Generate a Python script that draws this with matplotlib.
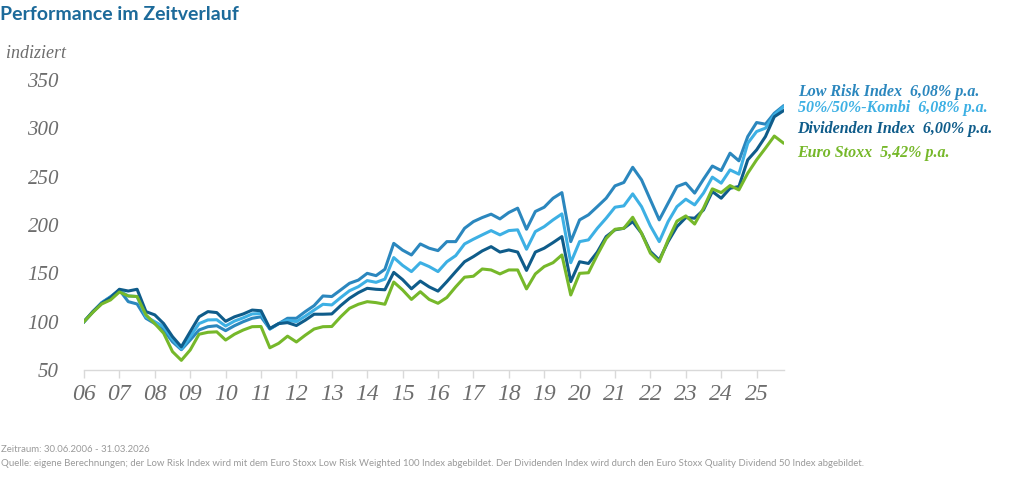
import matplotlib
matplotlib.use("Agg")
import matplotlib.pyplot as plt
import numpy as np

# Quarterly data 30.06.2006 - 31.03.2026 (indexed, start = 100)
low_risk = [100, 110, 119.7, 125.8, 132.8, 120.7, 118.3, 103.5, 98, 91.4,
            79.2, 71, 81, 91.4, 94.8, 95.8, 90.7, 95.8, 100, 103.5,
            105, 92.4, 98, 103.5, 103.5, 110.4, 116.6, 126.6, 126, 132.8,
            139.7, 143, 150, 147.6, 154.2, 181, 174, 169, 180.4, 176,
            173.5, 182.8, 182.8, 196.6, 203.5, 207.7, 211.2, 206.3, 212.9, 217.4,
            195.6, 214, 218.4, 227.7, 233.5, 182.8, 205.3, 210.5, 219, 227.7,
            240.5, 244, 259.7, 246.7, 226, 205.3, 222.6, 239.8, 243.3, 233,
            247.4, 261, 256.3, 274.3, 266.4, 291.5, 306, 304.3, 315.6, 323]
kombi = [100, 110, 119.5, 125.5, 132, 126.6, 126, 105, 100, 94.8,
         81.7, 71.6, 84.5, 98, 101.8, 102, 95.5, 100.6, 104, 108,
         108.4, 92.4, 98, 101.5, 100, 105.7, 112, 118, 117.3, 124.9,
         132, 136.2, 142.5, 140.7, 144, 166.3, 158.2, 151.8, 161, 157,
         151.8, 162, 168.3, 180.4, 185.3, 189.8, 194.2, 189.8, 194.2, 195,
         174.9, 193.2, 198.3, 205.3, 211.5, 161, 182.8, 184.6, 196.6, 207,
         218.4, 219.8, 232.2, 219, 199, 182.8, 203.5, 219, 226.7, 220.8,
         233, 249.5, 243.3, 257, 252.6, 284.6, 296.7, 300.2, 314, 322]
dividenden = [100, 110.5, 119, 125, 133.5, 131.7, 133.5, 110.4, 107, 98,
              84.5, 74, 89.6, 105, 110.4, 109.4, 100.4, 105, 108, 112,
              111.3, 93, 98, 99, 96, 101.5, 107.7, 107.7, 108, 116.6,
              124.2, 130, 134.5, 133.5, 133, 151, 143.5, 134, 142, 136,
              131.6, 141.4, 151.8, 162, 167.3, 173.2, 177.6, 172, 174.2, 172,
              153, 172, 176, 181.8, 188, 141.4, 162, 160.2, 172, 188,
              195, 196.6, 203.5, 191.5, 172.5, 163.8, 182.8, 198.3, 207.7, 207,
              215.6, 234.6, 227.7, 238, 239.8, 267.4, 277.7, 291.5, 312, 318]
euro_stoxx = [100, 109.7, 118.3, 122.5, 130.7, 126.6, 126, 107, 98, 88,
              69, 60, 70.7, 87, 89, 89.5, 81, 87, 91.4, 94.8,
              95, 73, 77.6, 85, 79, 86, 92.4, 94.8, 95, 105,
              113.8, 118, 120.7, 119.7, 118, 141, 132.8, 123, 131, 123,
              119, 125, 136, 146, 147, 154.5, 153.5, 149.4, 153.5, 153.5,
              133.9, 149.4, 157, 161, 169, 127.6, 150, 150.6, 169, 186,
              195.6, 196.6, 208, 191.5, 170.8, 162, 184.6, 204, 209.4, 201,
              217.4, 237.4, 233.5, 240.8, 236.3, 253.6, 267.4, 279.5, 292, 285]

year_labels = ["06", "07", "08", "09", "10", "11", "12", "13", "14", "15",
               "16", "17", "18", "19", "20", "21", "22", "23", "24", "25"]
y_ticks = [50, 100, 150, 200, 250, 300, 350]

series_names = ["Low Risk Index  6,08% p.a.", "50%/50%-Kombi  6,08% p.a.",
                "Dividenden Index  6,00% p.a.", "Euro Stoxx  5,42% p.a."]

c_low = "#2B87BE"
c_kombi = "#3DB0E4"
c_div = "#0F5C8A"
c_es = "#76B82A"
grey = "#6d6d6d"

fig = plt.figure(figsize=(10.24, 4.83), dpi=100)
W, H = 1024, 483
ax = fig.add_axes([84 / W, (H - 370) / H, (784 - 84) / W, (370 - 80) / H])

x = np.arange(len(low_risk))
lw = 2.2
ax.plot(x, low_risk, color=c_low, lw=lw, zorder=3)
ax.plot(x, kombi, color=c_kombi, lw=lw, zorder=4)
ax.plot(x, dividenden, color=c_div, lw=lw, zorder=5)
ax.plot(x, euro_stoxx, color=c_es, lw=lw, zorder=6)

ax.set_xlim(0, (784 - 84) / 8.85)
ax.set_ylim(50, 350)

for s in ["top", "right", "left"]:
    ax.spines[s].set_visible(False)
ax.spines["bottom"].set_color("#d9d9d9")
ax.spines["bottom"].set_linewidth(1.0)

ax.set_xticks(np.arange(0, 4 * len(year_labels), 4))
ax.set_xticklabels(year_labels, fontfamily="Liberation Serif", fontstyle="italic",
                   fontsize=17, color=grey)
ax.tick_params(axis="x", length=6, width=1.0, color="#d9d9d9", pad=4)
ax.set_yticks(y_ticks)
ax.set_yticklabels([str(v) for v in y_ticks], fontfamily="Liberation Serif",
                   fontstyle="italic", fontsize=15, color=grey)
ax.tick_params(axis="y", length=0, pad=18)

# Title and axis caption
fig.text(0 / W, 1 - 15 / H, "Performance im Zeitverlauf", fontfamily="Lato",
         fontweight="bold", fontsize=14, color="#1C6A9A", va="center", ha="left")
fig.text(6 / W, 1 - 53 / H, "indiziert", fontfamily="Liberation Serif",
         fontstyle="italic", fontsize=13, color=grey, va="center", ha="left")

# Series labels
label_pos = [(798, 92), (798, 108), (797, 129), (797, 153)]
for name, col, (px, py) in zip(series_names, [c_low, c_kombi, c_div, c_es], label_pos):
    fig.text(px / W, 1 - py / H, name, fontfamily="Liberation Serif",
             fontstyle="italic", fontweight="bold", fontsize=11.5, color=col,
             va="center", ha="left")

# Footer
fig.text(1 / W, 1 - 449 / H, "Zeitraum: 30.06.2006 - 31.03.2026", fontfamily="Lato",
         fontsize=6.9, color="#9a9a9a", va="center", ha="left")
fig.text(1 / W, 1 - 463 / H,
         "Quelle: eigene Berechnungen; der Low Risk Index wird mit dem Euro Stoxx Low Risk "
         "Weighted 100 Index abgebildet. Der Dividenden Index wird durch den Euro Stoxx "
         "Quality Dividend 50 Index abgebildet.",
         fontfamily="Lato", fontsize=6.9, color="#9a9a9a", va="center", ha="left")

fig.savefig("out.png", dpi=100)
